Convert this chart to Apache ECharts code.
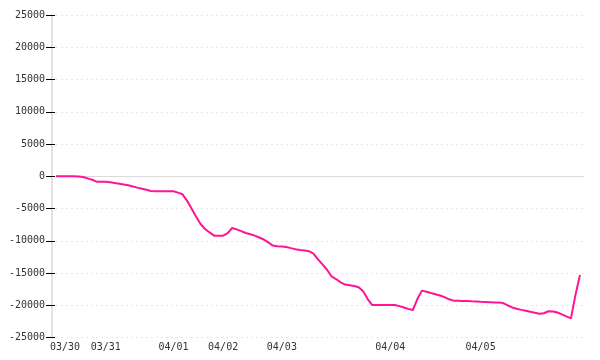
<!DOCTYPE html>
<html>
<head>
<meta charset="utf-8">
<script src="https://cdn.jsdelivr.net/npm/echarts@6/dist/echarts.min.js"></script>
<style>html,body{margin:0;padding:0;background:#fff}#c{width:600px;height:360px}</style>
</head>
<body>
<div id="c"></div>
<script>
// Day labels and number of samples per day (last slot of 04/05 is empty)
const dayLabels = ['03/29','03/30','03/31','04/01','04/02','04/03','04/04','04/05'];
const pointsPerDay = [2, 9, 15, 11, 13, 24, 20, 24];

// Series values
const values = [
  0, 0, 0, 0, 0, -30, -110, -310, -530, -820,
  -840, -840, -900, -1040, -1130, -1250, -1390, -1570, -1750, -1920,
  -2090, -2280, -2320, -2320, -2320, -2320, -2320, -2520, -2780, -3750,
  -4990, -6210, -7390, -8160, -8690, -9190, -9200, -9200, -8800, -8000,
  -8210, -8490, -8770, -8980, -9190, -9480, -9790, -10240, -10730, -10830,
  -10870, -10950, -11120, -11280, -11420, -11490, -11600, -11960, -12870, -13650,
  -14470, -15510, -15910, -16420, -16770, -16870, -16980, -17180, -17800, -19010,
  -19940, -19940, -19940, -19940, -19940, -19940, -20110, -20310, -20540, -20710,
  -19010, -17710, -17890, -18080, -18260, -18460, -18710, -19050, -19260, -19280,
  -19300, -19320, -19360, -19390, -19440, -19470, -19500, -19530, -19550, -19630,
  -20010, -20310, -20520, -20690, -20830, -20970, -21130, -21300, -21210, -20900,
  -20930, -21100, -21380, -21700, -22000, -18370, -15290, null
];

// Y axis ticks
const yMin = -25000, yMax = 25000, yStep = 5000;

const categories = [];
dayLabels.forEach((d, i) => { for (let k = 0; k < pointsPerDay[i]; k++) categories.push(d); });

const font = 'DejaVu Sans Mono';
const chart = echarts.init(document.getElementById('c'), null, {renderer: 'canvas'});
chart.setOption({
  animation: false,
  backgroundColor: '#fff',
  grid: {left: 56, right: 15.5, top: 15, bottom: 22.3},
  xAxis: {
    type: 'category',
    data: categories,
    boundaryGap: false,
    axisLine: {show: false},
    axisTick: {show: false},
    splitLine: {show: false},
    axisLabel: {
      color: '#333', fontFamily: font, fontSize: 10, margin: 5,
      interval: (idx) => idx > 0 && categories[idx] !== categories[idx - 1]
    }
  },
  yAxis: [{
    type: 'value', min: yMin, max: yMax, interval: yStep, offset: 4,
    axisLine: {show: true, lineStyle: {color: '#dcdcdc', width: 1.5}},
    axisTick: {show: true, length: 6, lineStyle: {color: '#000', width: 1}},
    axisLabel: {color: '#333', fontFamily: font, fontSize: 10, margin: 7,
      formatter: (v) => String(v)},
    splitLine: {show: true, lineStyle: {color: '#e8e8e8', width: 1, type: [2, 3]}}
  }, {
    type: 'value', min: yMin, max: yMax, interval: yStep, offset: 4, position: 'left',
    axisLine: {show: false},
    axisTick: {show: true, inside: true, length: 3, lineStyle: {color: '#000', width: 1}},
    axisLabel: {show: false},
    splitLine: {show: false}
  }],
  series: [{
    type: 'line', data: [], z: 1, silent: true,
    markLine: {
      silent: true, symbol: 'none', label: {show: false}, z: 1,
      lineStyle: {color: '#dadada', type: 'solid', width: 1.2},
      data: [{yAxis: 0}]
    }
  }, {
    type: 'line',
    data: values,
    z: 10,
    showSymbol: false,
    symbol: 'none',
    connectNulls: false,
    lineStyle: {color: '#ff1493', width: 2},
    itemStyle: {color: '#ff1493'}
  }]
});
</script>
</body>
</html>
